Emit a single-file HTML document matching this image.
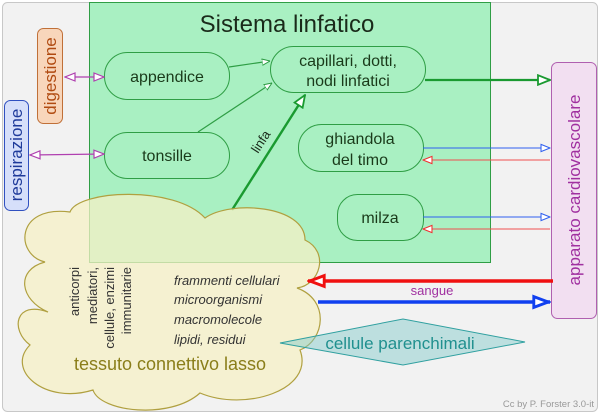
<!DOCTYPE html>
<html><head><meta charset="utf-8"><style>
html,body{margin:0;padding:0;background:#fff}
svg{display:block;font-family:"Liberation Sans","DejaVu Sans",sans-serif}
</style></head><body>
<svg width="600" height="414" viewBox="0 0 600 414" xmlns="http://www.w3.org/2000/svg">
<defs>
<marker id="og" viewBox="0 0 10 10" refX="10" refY="5" markerWidth="8" markerHeight="8" orient="auto-start-reverse" markerUnits="userSpaceOnUse"><path d="M0,1 L10,5 L0,9 Z" fill="#fff" stroke="#2a9a40" stroke-width="1.2"/></marker>
<marker id="og2" viewBox="0 0 10 10" refX="10" refY="5" markerWidth="14" markerHeight="12" orient="auto" markerUnits="userSpaceOnUse"><path d="M0,1 L10,5 L0,9 Z" fill="#fff" stroke="#1a9a30" stroke-width="1.5"/></marker>
<marker id="op" viewBox="0 0 10 10" refX="10" refY="5" markerWidth="12" markerHeight="10" orient="auto-start-reverse" markerUnits="userSpaceOnUse"><path d="M0,1 L10,5 L0,9 Z" fill="#fff" stroke="#b040b0" stroke-width="1.2"/></marker>
<marker id="ob" viewBox="0 0 10 10" refX="10" refY="5" markerWidth="10" markerHeight="9" orient="auto" markerUnits="userSpaceOnUse"><path d="M0,1 L10,5 L0,9 Z" fill="#fff" stroke="#3060f0" stroke-width="1.2"/></marker>
<marker id="or" viewBox="0 0 10 10" refX="10" refY="5" markerWidth="10" markerHeight="9" orient="auto" markerUnits="userSpaceOnUse"><path d="M0,1 L10,5 L0,9 Z" fill="#fff" stroke="#f03030" stroke-width="1.2"/></marker>
<marker id="obig" viewBox="0 0 10 10" refX="10" refY="5" markerWidth="20" markerHeight="18" orient="auto" markerUnits="userSpaceOnUse"><path d="M1,2 L9,5 L1,8 Z" fill="#fff" stroke="#1040f0" stroke-width="1.6"/></marker>
<marker id="orbig" viewBox="0 0 10 10" refX="10" refY="5" markerWidth="20" markerHeight="18" orient="auto" markerUnits="userSpaceOnUse"><path d="M1,2 L9,5 L1,8 Z" fill="#fff" stroke="#f01010" stroke-width="1.6"/></marker>
</defs>
<rect x="2.5" y="2.5" width="595" height="409" rx="5" fill="#f2f2f2" stroke="#c8c8c8"/>
<rect x="89.5" y="2.5" width="401" height="260" fill="#a9f0c2" stroke="#2f9e45"/>
<text x="287" y="32" font-size="24" text-anchor="middle" fill="#1a2a1a">Sistema linfatico</text>
<rect x="37.5" y="28.5" width="25" height="95" rx="6" fill="#f8d6bb" stroke="#c07038"/>
<text transform="translate(56,76) rotate(-90)" font-size="17" text-anchor="middle" fill="#b04a10">digestione</text>
<rect x="4.5" y="100.5" width="24" height="110" rx="6" fill="#d6dffa" stroke="#3050c0"/>
<text transform="translate(22,155) rotate(-90)" font-size="17" text-anchor="middle" fill="#1e3a9a">respirazione</text>
<rect x="551.5" y="62.5" width="45" height="256" rx="6" fill="#f2dff1" stroke="#b060b0"/>
<text transform="translate(580,190) rotate(-90)" font-size="17" text-anchor="middle" fill="#a030a0">apparato cardiovascolare</text>
<g fill="#a9f0c2" stroke="#2f9e45">
<rect x="104.5" y="52.5" width="125" height="47" rx="23"/>
<rect x="104.5" y="132.5" width="125" height="46" rx="23"/>
<rect x="270.5" y="46.5" width="155" height="46" rx="23"/>
<rect x="298.5" y="124.5" width="125" height="47" rx="23"/>
<rect x="337.5" y="194.5" width="86" height="46" rx="20"/>
</g>
<g font-size="16" fill="#1a3a1a" text-anchor="middle">
<text x="167" y="82">appendice</text>
<text x="167" y="161">tonsille</text>
<text x="348" y="66">capillari, dotti,</text>
<text x="348" y="86">nodi linfatici</text>
<text x="360" y="144">ghiandola</text>
<text x="360" y="165">del timo</text>
<text x="380" y="223">milza</text>
</g>
<line x1="229" y1="67" x2="270" y2="61" stroke="#2f9e45" stroke-width="1.2" marker-end="url(#og)"/>
<line x1="198" y1="132" x2="272" y2="83" stroke="#2f9e45" stroke-width="1.2" marker-end="url(#og)"/>
<line x1="65" y1="77" x2="104" y2="77" stroke="#b040b0" stroke-width="1.2" marker-start="url(#op)" marker-end="url(#op)"/>
<line x1="30" y1="155" x2="104" y2="154" stroke="#b040b0" stroke-width="1.2" marker-start="url(#op)" marker-end="url(#op)"/>
<line x1="425" y1="80" x2="550" y2="80" stroke="#1a9a30" stroke-width="2.2" marker-end="url(#og2)"/>
<line x1="423" y1="148" x2="550" y2="148" stroke="#3060f0" stroke-width="1" marker-end="url(#ob)"/>
<line x1="550" y1="160" x2="423" y2="160" stroke="#f05050" stroke-width="1" marker-end="url(#or)"/>
<line x1="423" y1="217" x2="550" y2="217" stroke="#3060f0" stroke-width="1" marker-end="url(#ob)"/>
<line x1="550" y1="229" x2="423" y2="229" stroke="#f05050" stroke-width="1" marker-end="url(#or)"/>
<line x1="232" y1="210" x2="305" y2="95" stroke="#1a9a30" stroke-width="2.4" marker-end="url(#og2)"/>
<text transform="translate(258,154) rotate(-57)" font-size="13" fill="#1a2a1a">linfa</text>
<path d="M45,262 C15,255 15,205 70,212 C78,190 175,185 205,218 C230,200 305,205 305,240 C330,252 320,285 297,288 C330,300 325,340 300,350 C315,390 245,412 200,393 C170,420 100,412 93,390 C45,405 5,370 30,345 C10,330 15,300 48,312 C20,300 15,270 45,262 Z" fill="#f5f0c6" fill-opacity="0.75" stroke="#b0a040" stroke-width="1.2"/>
<g font-size="13" fill="#333" text-anchor="end">
<text transform="translate(79,267) rotate(-90)">anticorpi</text>
<text transform="translate(97,267) rotate(-90)">mediatori,</text>
<text transform="translate(114,267) rotate(-90)">cellule, enzimi</text>
<text transform="translate(131,267) rotate(-90)">immunitarie</text>
</g>
<g font-size="13" fill="#333" font-style="italic">
<text x="174" y="285">frammenti cellulari</text>
<text x="174" y="304">microorganismi</text>
<text x="174" y="324">macromolecole</text>
<text x="174" y="344">lipidi, residui</text>
</g>
<text x="170" y="370" font-size="18" text-anchor="middle" fill="#8a7e1a">tessuto connettivo lasso</text>
<path d="M280,343 L403,319 L525,342 L403,365 Z" fill="#7cc8c8" fill-opacity="0.45" stroke="#30a0a0" stroke-width="1"/>
<text x="400" y="349" font-size="17" text-anchor="middle" fill="#20908f">cellule parenchimali</text>
<line x1="553" y1="281" x2="308" y2="281" stroke="#f01010" stroke-width="3.5" marker-end="url(#orbig)"/>
<line x1="318" y1="302" x2="550" y2="302" stroke="#1040f0" stroke-width="3.5" marker-end="url(#obig)"/>
<text x="432" y="295" font-size="13" text-anchor="middle" fill="#a030a0">sangue</text>
<text x="594" y="407" font-size="9.5" text-anchor="end" fill="#999">Cc by P. Forster 3.0-it</text>
</svg>
</body></html>
